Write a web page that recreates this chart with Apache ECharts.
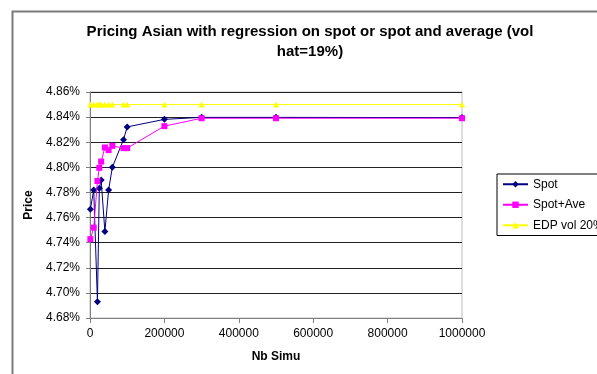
<!DOCTYPE html>
<html>
<head>
<meta charset="utf-8">
<script src="https://cdn.jsdelivr.net/npm/echarts@6/dist/echarts.min.js"></script>
<style>html,body{margin:0;padding:0;background:#fff;}#c{width:597px;height:374px;}</style>
</head>
<body>
<div id="c"></div>
<script>
var nbSimu = [1000, 10000, 20000, 25000, 30000, 40000, 50000, 60000, 90000, 100000, 200000, 300000, 500000, 1000000];
var spot = [4.7666, 4.7819, 4.6930, 4.7833, 4.7900, 4.7488, 4.7819, 4.8000, 4.8220, 4.8322, 4.8382, 4.8398, 4.8398, 4.8396];
var spotAve = [4.7428, 4.7520, 4.7891, 4.7996, 4.8046, 4.8158, 4.8137, 4.8171, 4.8153, 4.8153, 4.8328, 4.8391, 4.8391, 4.8391];
var edp = [4.85, 4.85, 4.85, 4.85, 4.85, 4.85, 4.85, 4.85, 4.85, 4.85, 4.85, 4.85, 4.85, 4.85];
var seriesNames = ['Spot', 'Spot+Ave', 'EDP vol 20%'];
var titleText = 'Pricing Asian with regression on spot or spot and average (vol\nhat=19%)';

function pairs(ys) { return nbSimu.map(function (x, i) { return [x, ys[i]]; }); }

var chart = echarts.init(document.getElementById('c'), null, {renderer: 'canvas'});
var font = 'Arial, "Liberation Sans", sans-serif';
chart.setOption({
  animation: false,
  backgroundColor: '#fff',
  graphic: [{
    type: 'rect', left: 10, top: 9, z: -10,
    shape: {width: 620, height: 400},
    style: {fill: 'none', stroke: '#7a7a7a', lineWidth: 2}
  }],
  title: {
    text: titleText, left: 305, top: 17, textAlign: 'center',
    textStyle: {fontFamily: font, fontSize: 15, fontWeight: 'bold', color: '#000', lineHeight: 20}
  },
  legend: {
    orient: 'vertical', left: 497, top: 174,
    data: seriesNames,
    itemWidth: 25, itemHeight: 8, itemGap: 6,
    padding: [3, 12, 3, 5],
    borderColor: '#000', borderWidth: 1,
    textStyle: {fontFamily: font, fontSize: 12, color: '#000', lineHeight: 14.5}
  },
  grid: {left: 90, top: 92, width: 372, height: 226, show: true, borderColor: '#bdbdbd', borderWidth: 1, backgroundColor: '#fff'},
  xAxis: {
    type: 'value', min: 0, max: 1000000, interval: 200000,
    name: 'Nb Simu', nameLocation: 'middle', nameGap: 33,
    nameTextStyle: {fontFamily: font, fontSize: 12, fontWeight: 'bold', color: '#000'},
    axisLine: {lineStyle: {color: '#808080', width: 1}},
    axisTick: {show: true, inside: false, length: 5, lineStyle: {color: '#808080'}},
    axisLabel: {fontFamily: font, fontSize: 12, color: '#000', margin: 10,
      formatter: function (v) { return String(v); }},
    splitLine: {show: false}
  },
  yAxis: {
    type: 'value', min: 4.68, max: 4.86, interval: 0.02,
    name: 'Price', nameLocation: 'middle', nameGap: 53,
    nameTextStyle: {fontFamily: font, fontSize: 12, fontWeight: 'bold', color: '#000'},
    axisLine: {show: true, lineStyle: {color: '#808080', width: 1}},
    axisTick: {show: true, inside: false, length: 4, lineStyle: {color: '#808080'}},
    axisLabel: {fontFamily: font, fontSize: 12, color: '#000', margin: 10,
      formatter: function (v) { return v.toFixed(2) + '%'; }},
    splitLine: {show: true, lineStyle: {color: '#222', width: 1}}
  },
  series: [
    {name: seriesNames[0], type: 'line', data: pairs(spot), symbol: 'diamond', symbolSize: 7,
     lineStyle: {color: '#000080', width: 1}, itemStyle: {color: '#000080'}, z: 2},
    {name: seriesNames[1], type: 'line', data: pairs(spotAve), symbol: 'rect', symbolSize: 6,
     lineStyle: {color: '#ff00ff', width: 1}, itemStyle: {color: '#ff00ff'}, z: 3},
    {name: seriesNames[2], type: 'line', data: pairs(edp), symbol: 'triangle', symbolSize: 6,
     lineStyle: {color: '#ffff00', width: 1}, itemStyle: {color: '#ffff00'}, z: 4}
  ]
});
</script>
</body>
</html>
